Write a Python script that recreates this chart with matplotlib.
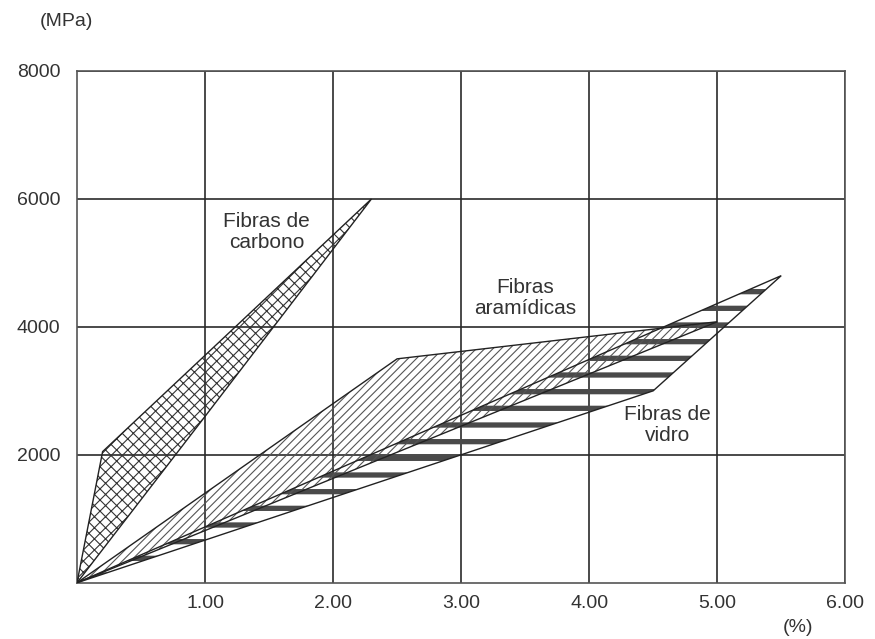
import matplotlib
matplotlib.use("Agg")
import matplotlib.pyplot as plt

plt.rcParams['font.family'] = ['Liberation Sans', 'DejaVu Sans']

# obwiednie obszarow (odksztalcenie [%], naprezenie [MPa])
carbon_x = [0, 0.2, 2.3, 1.0, 0]
carbon_y = [0, 2050, 6000, 2600, 0]

aramid_x = [0, 2.5, 5.0, 0]
aramid_y = [0, 3500, 4080, 0]

glass_x = [0, 4.5, 5.5, 0]
glass_y = [0, 3000, 4800, 0]

xticks = [1, 2, 3, 4, 5, 6]
xlabels = ["1.00", "2.00", "3.00", "4.00", "5.00", "6.00"]
yticks = [2000, 4000, 6000, 8000]
ylabels = ["2000", "4000", "6000", "8000"]

fig = plt.figure(figsize=(8.75, 6.39), dpi=100)
ax = fig.add_axes([0.088, 0.088, 0.878, 0.801])
ax.set_xlim(0, 6)
ax.set_ylim(0, 8000)

ax.set_xticks(xticks)
ax.set_xticklabels(xlabels)
ax.set_yticks(yticks)
ax.set_yticklabels(ylabels)
ax.tick_params(length=0, labelsize=14, colors="#333333")
ax.tick_params(axis="x", pad=9)
ax.tick_params(axis="y", pad=12)
ax.grid(True, color="#2a2a2a", linewidth=1.2)
ax.set_axisbelow(True)
for s in ax.spines.values():
    s.set_color("#555555")
    s.set_linewidth(1.2)


def area(x, y, hatch, hlw, hcol):
    with plt.rc_context({"hatch.linewidth": hlw}):
        p = ax.fill(x, y, facecolor="none", edgecolor=hcol, linewidth=0,
                    hatch=hatch, zorder=3)[0]
    if hasattr(p, "set_hatch_linewidth"):
        p.set_hatch_linewidth(hlw)
    ax.fill(x, y, facecolor="none", edgecolor="#222222", linewidth=1.0, zorder=4)


# wlokna szklane - poziome pasy
area(glass_x, glass_y, "-", 3.8, "#4a4a4a")
# wlokna aramidowe - ukosne kreski
area(aramid_x, aramid_y, "////", 0.8, "#555555")
# wlokna weglowe - cegielki
area(carbon_x, carbon_y, "xxx", 0.8, "#333333")

txt = dict(fontsize=15, color="#333333", ha="center", va="center",
           linespacing=1.15, zorder=5)
ax.text(1.48, 5480, "Fibras de\ncarbono", **txt)
ax.text(3.5, 4450, "Fibras\naramídicas", **txt)
ax.text(4.61, 2470, "Fibras de\nvidro", **txt)

ax.text(-0.08, 8770, "(MPa)", fontsize=14, color="#333333", ha="center",
        va="center", clip_on=False)
ax.text(5.63, -700, "(%)", fontsize=14, color="#333333", ha="center",
        va="center", clip_on=False)

fig.savefig("out.png", dpi=100)
